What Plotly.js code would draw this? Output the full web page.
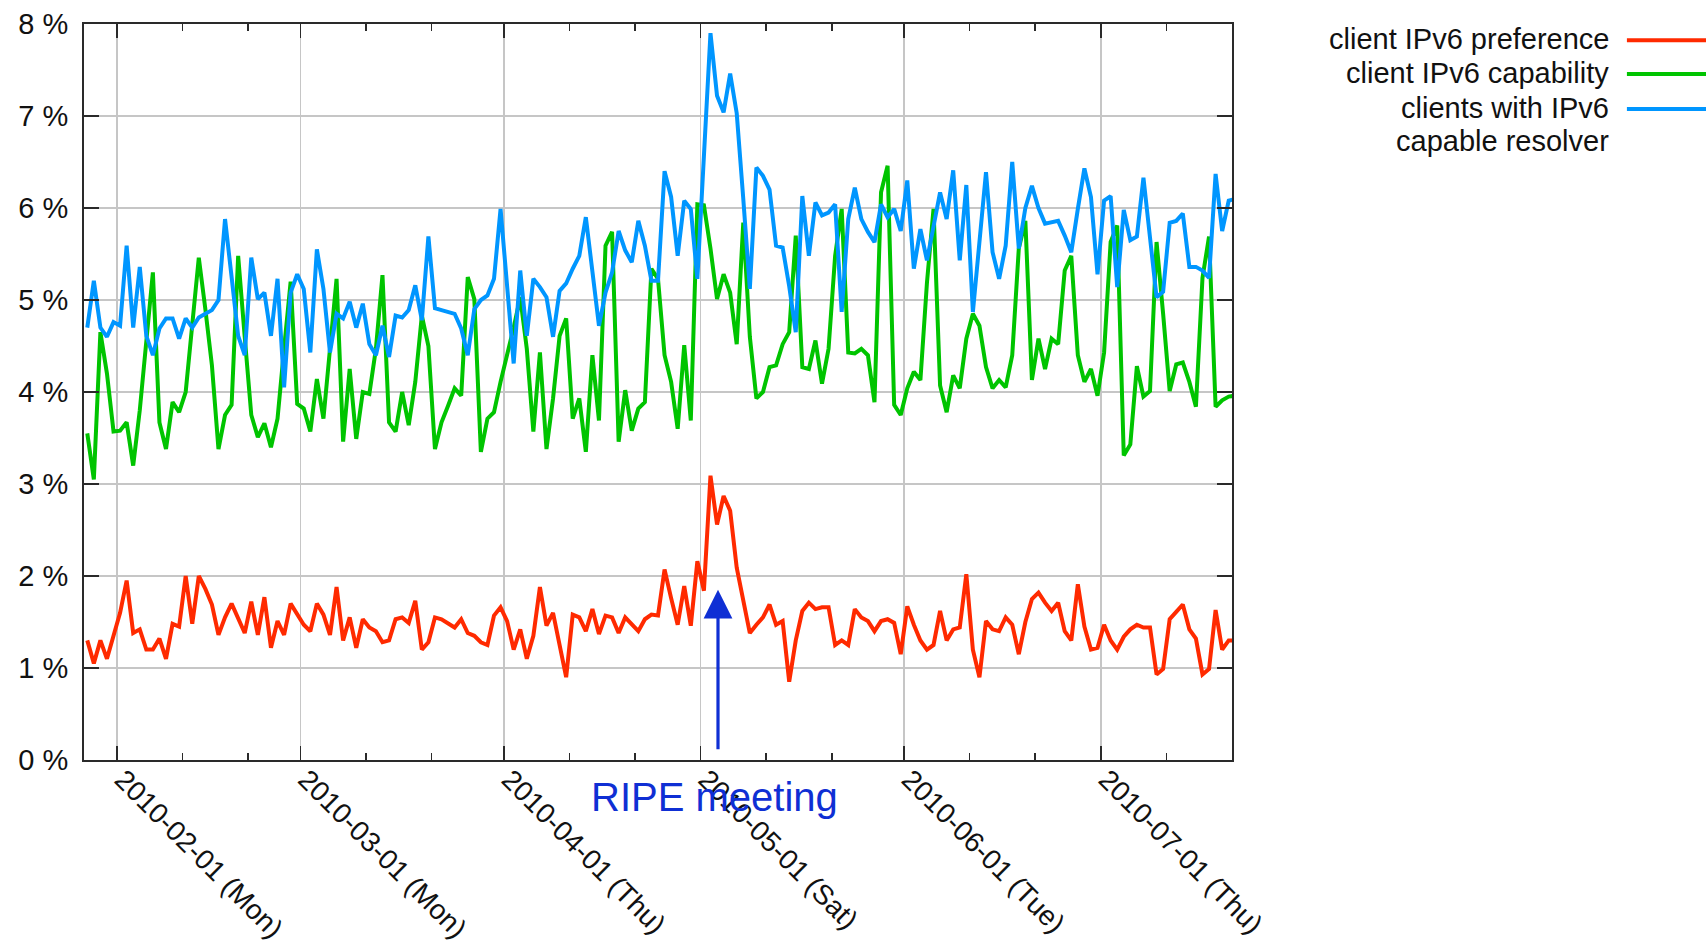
<!DOCTYPE html>
<html>
<head>
<meta charset="utf-8">
<script src="https://cdn.plot.ly/plotly-3.0.1.min.js"></script>
<style>html,body{margin:0;padding:0;background:#fff;}#chart{width:1706px;height:947px;}</style>
</head>
<body>
<div id="chart"></div>
<script>
// first day of the daily series
const startDate = '2010-01-27';

// client IPv6 preference (%)
const preference = [
1.30,1.05,1.30,1.10,1.35,1.60,1.95,1.38,1.42,1.20,
1.20,1.32,1.10,1.48,1.45,2.00,1.48,2.00,1.86,1.69,
1.36,1.55,1.70,1.55,1.38,1.72,1.36,1.77,1.22,1.51,
1.36,1.70,1.58,1.47,1.40,1.70,1.58,1.36,1.88,1.30,
1.55,1.22,1.53,1.44,1.40,1.28,1.30,1.53,1.55,1.49,
1.73,1.20,1.28,1.55,1.53,1.49,1.44,1.53,1.38,1.35,
1.28,1.25,1.57,1.66,1.51,1.20,1.42,1.10,1.35,1.88,
1.46,1.60,1.25,0.90,1.58,1.55,1.40,1.64,1.37,1.57,
1.55,1.38,1.55,1.47,1.40,1.53,1.58,1.57,2.07,1.76,
1.47,1.89,1.46,2.16,1.84,3.09,2.56,2.87,2.71,2.09,
1.73,1.38,1.47,1.55,1.69,1.47,1.51,0.85,1.30,1.62,
1.71,1.64,1.66,1.66,1.25,1.30,1.25,1.64,1.55,1.51,
1.40,1.51,1.53,1.49,1.15,1.67,1.47,1.30,1.20,1.25,
1.62,1.30,1.42,1.44,2.02,1.20,0.90,1.51,1.42,1.40,
1.55,1.47,1.15,1.50,1.75,1.82,1.71,1.62,1.71,1.40,
1.30,1.91,1.45,1.20,1.22,1.47,1.30,1.20,1.34,1.42,
1.47,1.44,1.44,0.93,0.99,1.53,1.61,1.69,1.42,1.32,
0.93,0.99,1.63,1.20,1.30,1.30
];

// client IPv6 capability (%)
const capability = [
3.55,3.05,4.65,4.20,3.57,3.58,3.67,3.20,3.80,4.50,
5.30,3.67,3.38,3.89,3.78,4.00,4.70,5.46,4.90,4.29,
3.38,3.75,3.86,5.48,4.60,3.75,3.51,3.66,3.40,3.71,
4.47,5.20,3.87,3.82,3.57,4.14,3.71,4.47,5.23,3.46,
4.25,3.49,4.00,3.98,4.47,5.27,3.67,3.57,4.00,3.64,
4.11,4.83,4.50,3.38,3.67,3.85,4.04,3.96,5.25,5.01,
3.35,3.71,3.78,4.11,4.40,4.70,5.03,4.47,3.57,4.43,
3.38,3.93,4.61,4.80,3.71,3.93,3.35,4.40,3.69,5.59,
5.74,3.46,4.02,3.58,3.82,3.89,5.34,5.23,4.40,4.11,
3.60,4.51,3.69,6.04,6.03,5.56,5.01,5.28,5.08,4.52,
5.84,4.60,3.93,4.00,4.27,4.29,4.52,4.65,5.70,4.27,
4.25,4.56,4.09,4.47,5.48,5.99,4.43,4.42,4.47,4.40,
3.89,6.17,6.46,3.86,3.75,4.04,4.22,4.13,5.19,5.99,
4.07,3.78,4.18,4.04,4.58,4.85,4.72,4.27,4.04,4.13,
4.05,4.40,5.56,5.86,4.13,4.58,4.25,4.58,4.52,5.32,
5.48,4.40,4.11,4.25,3.96,4.43,5.63,5.81,3.31,3.43,
4.28,3.95,4.01,5.63,4.85,4.01,4.30,4.32,4.11,3.84,
5.24,5.69,3.84,3.91,3.95,3.96
];

// clients with IPv6 capable resolver (%)
const resolver = [
4.70,5.21,4.70,4.60,4.76,4.72,5.59,4.70,5.36,4.61,
4.40,4.69,4.80,4.80,4.58,4.80,4.70,4.81,4.85,4.89,
5.00,5.88,5.25,4.61,4.40,5.46,5.01,5.08,4.61,5.23,
4.05,5.08,5.28,5.12,4.43,5.55,5.12,4.43,4.85,4.80,
4.98,4.70,4.96,4.52,4.40,4.72,4.38,4.83,4.81,4.89,
5.16,4.78,5.69,4.91,4.89,4.87,4.85,4.69,4.40,4.90,
5.00,5.05,5.23,5.99,5.16,4.31,5.32,4.61,5.23,5.14,
5.03,4.60,5.10,5.18,5.34,5.48,5.90,5.34,4.72,5.08,
5.30,5.75,5.54,5.41,5.86,5.59,5.21,5.21,6.40,6.12,
5.48,6.08,5.99,5.23,6.50,7.90,7.22,7.04,7.46,7.03,
6.10,5.12,6.44,6.35,6.20,5.59,5.57,5.15,4.65,6.13,
5.48,6.06,5.92,5.95,6.04,4.87,5.88,6.22,5.88,5.74,
5.63,6.04,5.90,5.99,5.75,6.30,5.34,5.77,5.43,5.81,
6.17,5.88,6.41,5.43,6.25,4.87,5.63,6.39,5.52,5.23,
5.59,6.50,5.56,6.00,6.24,6.00,5.83,5.84,5.86,5.70,
5.52,5.99,6.43,6.12,5.28,6.08,6.13,5.14,5.98,5.65,
5.69,6.33,5.68,5.03,5.09,5.84,5.86,5.94,5.36,5.36,
5.32,5.24,6.37,5.75,6.08,6.10
];

// axis ticks and labels
const xRange = ['2010-01-27', '2010-07-21'];
const xTickVals = ['2010-02-01','2010-03-01','2010-04-01','2010-05-01','2010-06-01','2010-07-01'];
const xTickText = ['2010-02-01 (Mon)','2010-03-01 (Mon)','2010-04-01 (Thu)','2010-05-01 (Sat)','2010-06-01 (Tue)','2010-07-01 (Thu)'];
const xMinorVals = ['2010-02-11','2010-02-21','2010-03-11','2010-03-21','2010-04-11','2010-04-21',
                    '2010-05-11','2010-05-21','2010-06-11','2010-06-21','2010-07-11','2010-07-21'];
const yTickVals = [0,1,2,3,4,5,6,7,8];
const yTickText = ['0 %','1 %','2 %','3 %','4 %','5 %','6 %','7 %','8 %'];

const seriesNames = ['client IPv6 preference', 'client IPv6 capability', 'clients with IPv6', 'capable resolver'];

// annotation for the meeting
const meetingLabel = 'RIPE meeting';
const meetingDate = '2010-05-03 15:30';
const meetingArrowFrom = 0.1;
const meetingArrowTo = 1.85;

// daily dates (plotted at midday)
const dates = [];
(function () {
  const d0 = new Date(startDate + 'T00:00:00Z');
  for (let i = 0; i < resolver.length; i++) {
    const d = new Date(d0.getTime() + i * 86400000);
    dates.push(d.toISOString().slice(0, 10) + ' 12:00');
  }
})();

const RED = '#ff2a00', GREEN = '#00c400', BLUE = '#0096ff', ANN = '#0f2fd4';
const FONT = 'Liberation Sans, Arial, Helvetica, sans-serif';
const AX = '#2a2a2a', GRID = '#c6c6c6';
const LW = 4;

const traces = [
  {x: dates, y: preference, type: 'scatter', mode: 'lines', line: {color: RED, width: LW}, showlegend: false, name: seriesNames[0]},
  {x: dates, y: capability, type: 'scatter', mode: 'lines', line: {color: GREEN, width: LW}, showlegend: false, name: seriesNames[1]},
  {x: dates, y: resolver, type: 'scatter', mode: 'lines', line: {color: BLUE, width: LW}, showlegend: false, name: seriesNames[2] + ' ' + seriesNames[3]}
];

const legendX = 1.3301, lineX0 = 1.344, lineX1 = 1.42;
const legendRows = [0.9796, 0.9334, 0.8859, 0.841];
const legendLineY = [0.978, 0.932, 0.8845];
const legendColors = [RED, GREEN, BLUE];

const annotations = seriesNames.map((t, i) => ({
  xref: 'paper', yref: 'paper', x: legendX, y: legendRows[i], xanchor: 'right', yanchor: 'middle',
  text: t, showarrow: false, font: {family: FONT, size: 29, color: '#111'}
}));
annotations.push({
  xref: 'paper', yref: 'paper', x: 0.5488, y: -0.0503, xanchor: 'center', yanchor: 'middle',
  text: meetingLabel, showarrow: false, font: {family: FONT, size: 40, color: ANN}
});
annotations.push({
  xref: 'x', yref: 'y', axref: 'x', ayref: 'y',
  x: meetingDate, y: meetingArrowTo, ax: meetingDate, ay: meetingArrowFrom,
  text: '', showarrow: true, arrowhead: 2, arrowsize: 1.8, arrowwidth: 3.2, arrowcolor: ANN, standoff: 0
});

const shapes = legendColors.map((c, i) => ({
  type: 'line', xref: 'paper', yref: 'paper', x0: lineX0, x1: lineX1, y0: legendLineY[i], y1: legendLineY[i],
  line: {color: c, width: LW}
}));

const layout = {
  width: 1706, height: 947,
  margin: {l: 84, r: 474, t: 24, b: 187},
  paper_bgcolor: '#fff', plot_bgcolor: '#fff',
  font: {family: FONT, size: 29, color: '#111'},
  xaxis: {
    type: 'date', range: xRange,
    tickmode: 'array', tickvals: xTickVals, ticktext: xTickText, tickangle: 45,
    ticks: 'inside', ticklen: 14, tickwidth: 1.5, tickcolor: AX,
    showline: true, linecolor: AX, linewidth: 2, mirror: 'ticks',
    showgrid: true, gridcolor: GRID, gridwidth: 1.5, zeroline: false,
    tickfont: {family: FONT, size: 28, color: '#111'},
    ticklabelshift: 6, ticklabelstandoff: -10,
    minor: {tickmode: 'array', tickvals: xMinorVals, ticks: 'inside', ticklen: 7, tickwidth: 1.5, tickcolor: AX, showgrid: false}
  },
  yaxis: {
    range: [0, 8], tickmode: 'array', tickvals: yTickVals, ticktext: yTickText,
    ticks: 'inside', ticklen: 15, tickwidth: 1.5, tickcolor: AX,
    showline: true, linecolor: AX, linewidth: 2, mirror: 'ticks',
    showgrid: true, gridcolor: GRID, gridwidth: 1.5, zeroline: false,
    tickfont: {family: FONT, size: 29, color: '#111'}, ticklabelstandoff: 8
  },
  annotations: annotations,
  shapes: shapes
};

Plotly.newPlot('chart', traces, layout, {displayModeBar: false, staticPlot: true});
</script>
</body>
</html>
